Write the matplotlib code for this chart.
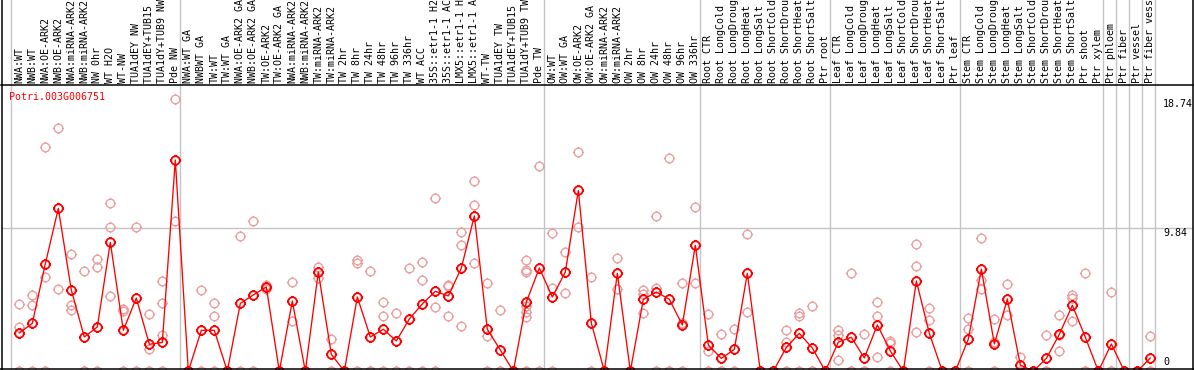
import numpy as np
import matplotlib
matplotlib.use('Agg')
import matplotlib.pyplot as plt
from matplotlib.path import Path
from matplotlib.lines import Line2D
from matplotlib.transforms import blended_transform_factory

W, H = 1194, 370
MONO = 'DejaVu Sans Mono'

gene = "Potri.003G006751"

samples = [
    "NWA:WT", "NWB:WT", "NWA:OE-ARK2", "NWB:OE-ARK2", "NWA:miRNA-ARK2", "NWB:miRNA-ARK2",
    "NW 0hr", "WT H2O", "WT-NW", "TUA1dEY NW", "TUA1dEY+TUB15 NW", "TUA1dY+TUB9 NW", "Pde NW",
    "NWA:WT GA", "NWBWT GA", "TW:WT", "TW:WT GA", "NWA:OE-ARK2 GA", "NWB:OE-ARK2 GA",
    "TW:OE-ARK2", "TW:OE-ARK2 GA", "NWA:miRNA-ARK2", "NWB:miRNA-ARK2", "TW:miRNA-ARK2",
    "TW:miRNA-ARK2", "TW 2hr", "TW 8hr", "TW 24hr", "TW 48hr", "TW 96hr", "TW 336hr", "WT ACC",
    "35S::etr1-1 H2O", "35S::etr1-1 ACC", "LMX5::etr1-1 H2O", "LMX5::etr1-1 ACC", "WT-TW",
    "TUA1dEY TW", "TUA1dEY+TUB15 TW", "TUA1dY+TUB9 TW", "Pde TW",
    "OW:WT", "OW:WT GA", "OW:OE-ARK2", "OW:OE-ARK2 GA", "OW:miRNA-ARK2", "OW:miRNA-ARK2",
    "OW 2hr", "OW 8hr", "OW 24hr", "OW 48hr", "OW 96hr", "OW 336hr",
    "Root CTR", "Root LongCold", "Root LongDrought", "Root LongHeat", "Root LongSalt",
    "Root ShortCold", "Root ShortDrought", "Root ShortHeat", "Root ShortSalt", "Ptr root",
    "Leaf CTR", "Leaf LongCold", "Leaf LongDrought", "Leaf LongHeat", "Leaf LongSalt",
    "Leaf ShortCold", "Leaf ShortDrought", "Leaf ShortHeat", "Leaf ShortSalt", "Ptr leaf",
    "Stem CTR", "Stem LongCold", "Stem LongDrought", "Stem LongHeat", "Stem LongSalt",
    "Stem ShortCold", "Stem ShortDrought", "Stem ShortHeat", "Stem ShortSalt", "Ptr shoot",
    "Ptr xylem", "Ptr phloem", "Ptr fiber", "Ptr vessel", "Ptr fiber vessel",
]

group_sizes = [13, 28, 12, 10, 10, 11, 1, 1, 1, 1]

means = [
    2.63, 3.29, 7.37, 11.19, 5.58, 2.35, 3.04, 8.86, 2.81, 5.03, 1.85, 1.98, 14.51,
    0, 2.81, 2.81, 0, 4.66, 5.24, 5.79, 0, 4.82, 0, 6.82, 1.16, 0, 5.10, 2.35, 2.88,
    2.08, 3.59, 4.62, 5.49, 5.17, 7.09, 10.67, 2.88, 1.46, 0, 4.75, 7.09,
    5.10, 6.82, 12.43, 3.31, 0, 6.73, 0, 4.94, 5.44, 4.94, 3.18, 8.65,
    1.80, 0.88, 1.50, 6.73, 0, 0, 1.64, 2.60, 1.59, 0,
    2.00, 2.33, 0.91, 3.18, 1.39, 0, 6.20, 2.60, 0, 0,
    2.21, 7.02, 1.87, 4.96, 0.42, 0, 0.88, 2.54, 4.53, 2.33, 0,
    1.87, 0, 0, 0.91,
]

replicates = [
    [4.62, 3.04, 0], [5.24, 4.53, 0], [15.38, 6.45, 0], [16.69, 5.63], [8.05, 4.55, 4.21],
    [6.89, 0, 0], [7.68, 7.14, 0], [11.54, 9.89, 5.15], [4.30, 4.11, 0], [9.89, 0],
    [3.91, 1.53, 0], [6.20, 4.69, 2.46, 0], [18.74, 10.30],
    [0, 0], [5.58, 0], [4.66, 3.79, 0], [0, 0], [9.29, 0], [10.32, 0], [5.92, 5.66],
    [0, 0], [6.13, 3.43], [0, 0], [7.18, 6.43], [2.19, 0], [0, 0], [7.66, 7.41, 0],
    [6.89, 0, 0], [4.73, 3.79, 0], [3.97, 0], [7.09, 0], [7.50, 6.27, 0], [11.89, 4.41, 0],
    [5.92, 5.83, 3.79], [9.57, 8.65, 3.11], [13.05, 11.40, 7.41], [6.04, 2.40, 0],
    [4.20, 0, 0], [0, 0], [7.64, 6.93, 6.84, 4.45, 4.10, 3.75, 0], [14.10, 0],
    [9.50, 5.69, 0], [8.19, 5.35], [15.04, 9.88], [6.45, 0], [0, 0], [7.78, 5.65], [0, 0],
    [5.58, 5.28, 3.97], [10.67, 5.69, 0], [14.66, 0, 0], [6.04, 3.34, 0], [11.26, 6.04],
    [3.91, 1.41, 0], [2.54, 0, 0], [2.88, 0], [9.41, 4.04], [0, 0], [0, 0],
    [2.81, 2.00, 0], [4.02, 3.82, 0], [4.48, 0, 0], [0, 0],
    [2.83, 2.49, 0.77], [6.73, 0, 0], [2.54, 0, 0], [4.73, 3.79, 0.98], [2.10, 1.97, 0],
    [0, 0], [8.72, 7.23, 2.69], [4.32, 3.49, 0], [0, 0], [0, 0],
    [3.66, 2.88, 0], [9.13, 6.24, 5.65], [3.56, 2.03, 0], [5.97, 3.86], [0.98, 0], [0, 0],
    [2.47, 0, 0], [3.86, 2.49, 1.39], [5.24, 5.00, 3.43], [6.73, 0, 0], [0, 0],
    [5.42, 0, 0], [0, 0], [0, 0], [2.43, 0, 0],
]

ytick_vals = [18.74, 9.84]

# open circle with four little ticks, like the original bitmap marker
ticks = Path([(1, 0), (1.3, 0), (-1, 0), (-1.3, 0), (0, 1), (0, 1.3), (0, -1), (0, -1.3)],
             [Path.MOVETO, Path.LINETO] * 4)
ring = Path.make_compound_path(Path.unit_circle(), ticks)

fig = plt.figure(figsize=(W / 100, H / 100), dpi=100)
ax = fig.add_axes([1 / W, 1 / H, 1192 / W, 284 / H])
ax.set_xlim(-1.408, 90.28)
ax.set_ylim(0.151, 19.67)

for s in ['left', 'right', 'bottom']:
    ax.spines[s].set_visible(False)
ax.spines['top'].set_linewidth(1.1)

x = np.arange(len(samples))

# group separators running up through the label strip
bounds = np.concatenate([[0], np.cumsum(group_sizes)])
for b in bounds:
    ax.axvline(b - 0.65, ymin=-0.01, ymax=1 + 85 / 284, color='#c4c4c4', lw=1.0,
               clip_on=False, zorder=0)
ax.axhline(ytick_vals[1], color='#c4c4c4', lw=1.0, zorder=0)

rx = np.repeat(x, [len(r) for r in replicates])
ry = np.concatenate(replicates)
ax.plot(rx, ry, ls='none', marker=ring, ms=8, mec='#eba0a0', mfc='none', mew=1.0,
        clip_on=False, zorder=2)
ax.plot(x, means, color='red', lw=0.95, clip_on=False, zorder=3)
ax.plot(x, means, ls='none', marker=ring, ms=8, mec='red', mfc='none', mew=1.3,
        clip_on=False, zorder=4)

ax.xaxis.tick_top()
ax.set_xticks(x)
ax.set_xticklabels(samples, rotation=90, fontsize=7.2, family=MONO)
ax.tick_params(axis='x', length=0, pad=1.5)
ax.set_yticks([])

tr = blended_transform_factory(ax.transAxes, ax.transData)
for v in ytick_vals:
    ax.text(0.9748, v, f'{v:.2f}', transform=tr, ha='left', va='top',
            fontsize=7.2, family=MONO)
ax.text(0.9748, 0.025, '0', transform=ax.transAxes, ha='left', va='center',
        fontsize=7.2, family=MONO)

ax.text(0.007, 0.959, gene, transform=ax.transAxes, ha='left', va='center',
        color='red', fontsize=7.2, family=MONO)

# outer frame: left, right and bottom edges of the picture
for xs, ys in [([1.5 / W, 1.5 / W], [0, 1]), ([1192.5 / W, 1192.5 / W], [0, 1]),
               ([0, 1], [0.7 / H, 0.7 / H])]:
    fig.add_artist(Line2D(xs, ys, transform=fig.transFigure, color='black', lw=1.1))

fig.savefig('out.png', dpi=100)
